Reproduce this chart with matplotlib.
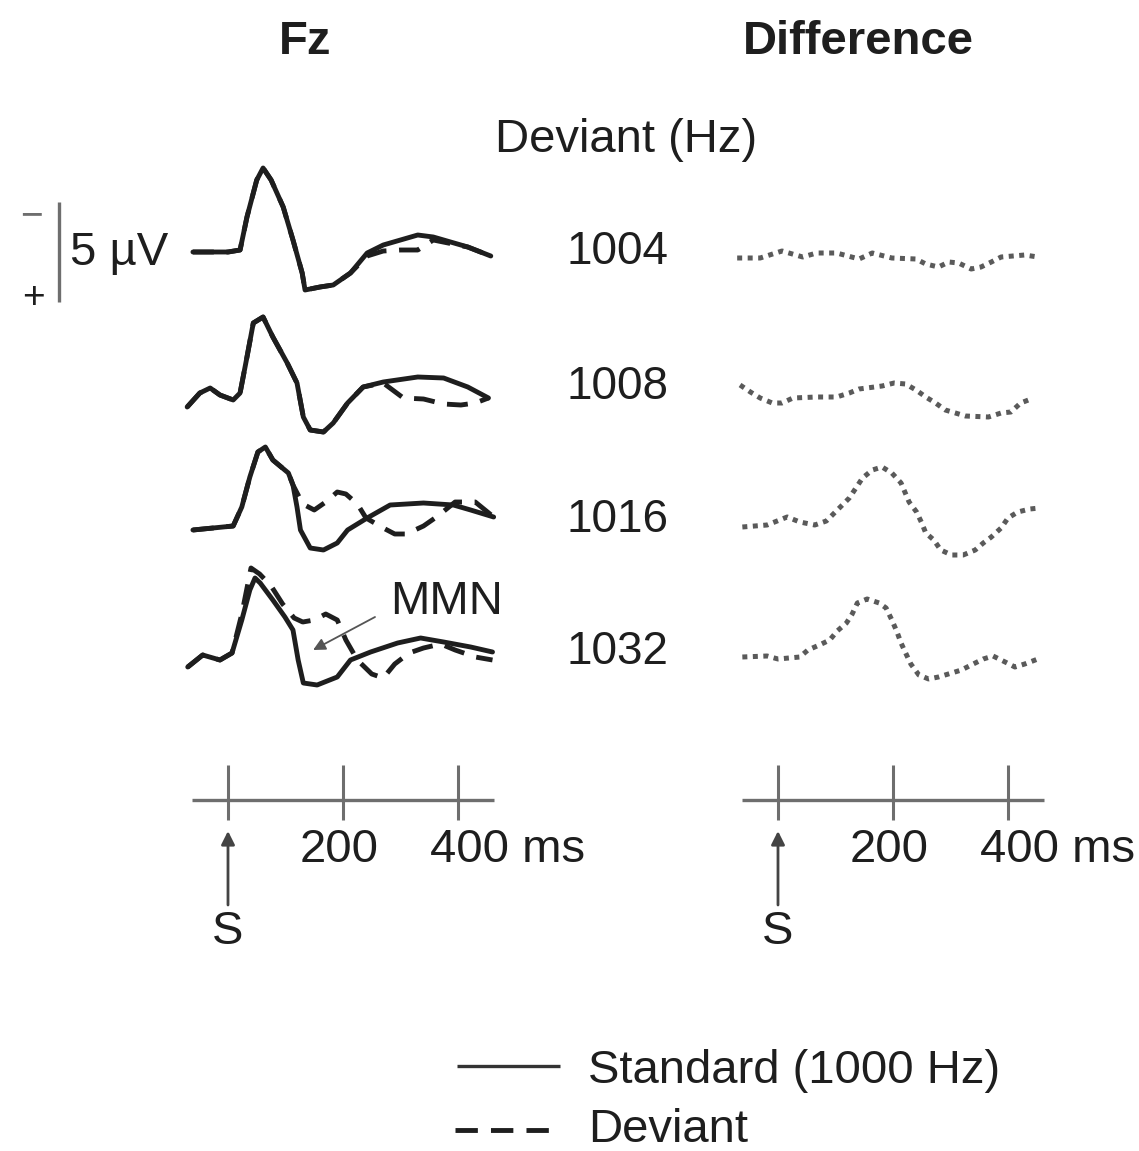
import matplotlib
matplotlib.use('Agg')
import matplotlib.pyplot as plt
from matplotlib.transforms import blended_transform_factory as blend

plt.rcParams['font.family'] = ['Liberation Sans', 'DejaVu Sans']

# ---------------- data ----------------
deviant_labels = ['1004', '1008', '1016', '1032']
time_ticks = [0, 200, 400]
tick_labels = ['', '200', '400 ms']
scale_uv = 5  # µV scale bar

# Fz standard (time ms, amplitude µV; negative plotted up)
std_1004_t = [-61, 0, 21, 33, 50, 61, 75, 96, 113, 129, 134, 160, 183, 213, 242, 270, 330, 357, 417, 457]
std_1004_v = [0, 0, -0.1, -1.75, -3.6, -4.2, -3.6, -2.25, -0.6, 1.05, 1.9, 1.75, 1.65, 1.05, 0.05, -0.35, -0.85, -0.75, -0.25, 0.2]
dev_1004_t = [-61, 0, 21, 33, 50, 61, 75, 96, 113, 129, 134, 160, 183, 213, 242, 270, 300, 330, 357, 417, 457]
dev_1004_v = [0, 0, -0.1, -1.75, -3.6, -4.2, -3.6, -2.25, -0.6, 1.05, 1.9, 1.75, 1.65, 1.05, 0.2, -0.05, -0.1, -0.1, -0.6, -0.25, 0.2]

std_1008_t = [-71, -49, -31, -14, 9, 21, 33, 44, 61, 78, 103, 120, 131, 143, 166, 183, 208, 235, 270, 330, 375, 417, 453]
std_1008_v = [0.45, -0.25, -0.5, -0.15, 0.1, -0.25, -2.05, -3.75, -4.05, -3.05, -1.75, -0.75, 0.95, 1.6, 1.7, 1.25, 0.25, -0.55, -0.8, -1.05, -1.0, -0.55, 0.0]
dev_1008_t = [-71, -49, -31, -14, 9, 21, 33, 44, 61, 78, 103, 120, 131, 143, 166, 183, 208, 235, 270, 305, 340, 375, 405, 430, 453]
dev_1008_v = [0.45, -0.25, -0.5, -0.15, 0.1, -0.25, -2.05, -3.75, -4.05, -3.05, -1.75, -0.75, 0.95, 1.6, 1.7, 1.25, 0.25, -0.55, -0.75, 0.0, 0.05, 0.3, 0.35, 0.25, 0.0]

std_1016_t = [-61, 9, 24, 38, 52, 65, 78, 105, 113, 120, 126, 143, 166, 190, 208, 242, 282, 340, 392, 422, 462]
std_1016_v = [0.1, -0.1, -1.05, -2.55, -3.8, -4.05, -3.4, -2.75, -2.15, -1.05, 0.1, 1.0, 1.1, 0.75, 0.1, -0.5, -1.15, -1.25, -1.15, -0.9, -0.55]
dev_1016_t = [-61, 9, 24, 38, 52, 65, 78, 105, 113, 130, 150, 170, 190, 205, 225, 240, 270, 290, 310, 340, 365, 395, 430, 462]
dev_1016_v = [0.1, -0.1, -1.05, -2.55, -3.8, -4.05, -3.4, -2.75, -2.15, -1.2, -0.9, -1.3, -1.8, -1.7, -1.2, -0.5, 0.0, 0.3, 0.3, -0.1, -0.6, -1.3, -1.3, -0.55]

std_1032_t = [-70, -44, -14, 7, 24, 38, 47, 56, 78, 99, 113, 122, 131, 155, 190, 213, 248, 295, 335, 375, 422, 460]
std_1032_v = [0.35, -0.25, 0, -0.35, -2.0, -3.5, -4.1, -3.85, -3.0, -2.15, -1.5, 0, 1.15, 1.25, 0.85, 0, -0.4, -0.85, -1.1, -0.9, -0.65, -0.4]
dev_1032_t = [-70, -44, -14, 7, 24, 40, 55, 75, 95, 115, 130, 150, 170, 190, 205, 225, 250, 270, 290, 315, 340, 370, 395, 430, 460]
dev_1032_v = [0.35, -0.25, 0, -0.35, -2.3, -4.6, -4.3, -3.7, -2.8, -2.1, -1.9, -2.0, -2.3, -2.0, -1.0, 0.0, 0.7, 0.9, 0.2, -0.35, -0.6, -0.8, -0.5, -0.15, 0.0]

# Difference waves (deviant - standard)
diff_1004_t = [-71, -31, 7, 43, 67, 102, 141, 164, 198, 240, 257, 279, 297, 314, 336, 353, 371, 388, 429, 452]
diff_1004_v = [0, 0, -0.35, -0.05, -0.25, -0.25, 0.05, -0.25, 0, 0.05, 0.3, 0.45, 0.2, 0.25, 0.55, 0.45, 0.2, -0.05, -0.15, -0.05]

diff_1008_t = [-66, -48, -31, -10, 7, 26, 67, 102, 124, 141, 181, 202, 222, 240, 257, 274, 291, 326, 366, 388, 405, 422, 440]
diff_1008_v = [-0.65, -0.3, 0, 0.25, 0.25, 0, -0.05, -0.05, -0.25, -0.45, -0.6, -0.75, -0.7, -0.4, -0.05, 0.25, 0.6, 0.9, 0.95, 0.75, 0.7, 0.25, 0.05]

diff_1016_t = [-62, -19, 16, 38, 64, 84, 98, 124, 147, 164, 181, 198, 214, 228, 241, 250, 257, 271, 283, 302, 322, 343, 357, 371, 388, 400, 417, 438, 455]
diff_1016_v = [0.1, 0, -0.4, -0.15, 0, -0.2, -0.6, -1.35, -2.35, -2.75, -2.9, -2.6, -2.1, -1.15, -0.65, -0.1, 0.4, 0.75, 1.25, 1.5, 1.5, 1.25, 0.9, 0.6, 0.15, -0.35, -0.65, -0.8, -0.85]

diff_1032_t = [-62, -19, 0, 38, 52, 72, 90, 103, 119, 129, 138, 155, 176, 188, 198, 207, 214, 222, 231, 245, 262, 279, 302, 319, 336, 357, 374, 395, 412, 429, 452]
diff_1032_v = [0, -0.05, 0.1, 0, -0.35, -0.6, -0.85, -1.3, -1.7, -2.15, -2.7, -2.9, -2.7, -2.45, -1.85, -1.25, -0.7, -0.2, 0.35, 0.9, 1.1, 1.0, 0.8, 0.65, 0.4, 0.1, -0.05, 0.25, 0.5, 0.35, 0.1]

std_t = [std_1004_t, std_1008_t, std_1016_t, std_1032_t]
std_v = [std_1004_v, std_1008_v, std_1016_v, std_1032_v]
dev_t = [dev_1004_t, dev_1008_t, dev_1016_t, dev_1032_t]
dev_v = [dev_1004_v, dev_1008_v, dev_1016_v, dev_1032_v]
diff_t = [diff_1004_t, diff_1008_t, diff_1016_t, diff_1032_t]
diff_v = [diff_1004_v, diff_1008_v, diff_1016_v, diff_1032_v]

# ---------------- layout ----------------
W, H = 1139, 1151
fig = plt.figure(figsize=(W / 100, H / 100), dpi=100)
fig.patch.set_facecolor('white')
overlay = fig.add_axes([0, 0, 1, 1])
overlay.set_xlim(0, W)
overlay.set_ylim(H, 0)
overlay.axis('off')

INK = '#1e1e1e'
GRAY = '#6e6e6e'
DOT = '#5a5a5a'
FS = 34

MS_PX = 0.575   # pixels per ms
UV_PX = 20.0    # pixels per µV
left_zero, right_zero = 228, 778
left_base = [252, 398, 528, 660]
right_base = [258, 398, 525, 657]
label_centers = [247, 382, 515, 647]


def panel(zero, base):
    ax = fig.add_axes([0, 0, 1, 1])
    ax.set_xlim(-zero / MS_PX, (W - zero) / MS_PX)
    ax.set_ylim((H - base) / UV_PX, -base / UV_PX)  # negative up
    ax.axis('off')
    ax.patch.set_alpha(0)
    return ax


left_axes, right_axes = [], []
for i in range(4):
    axl = panel(left_zero, left_base[i])
    axl.plot(std_t[i], std_v[i], color=INK, lw=3.5, solid_capstyle='round', solid_joinstyle='round')
    axl.plot(dev_t[i], dev_v[i], color=INK, lw=3.5, ls=(0, (4.3, 2.6)), dash_capstyle='butt')
    left_axes.append(axl)
    axr = panel(right_zero, right_base[i])
    axr.plot(diff_t[i], diff_v[i], color=DOT, lw=3.6, ls=(0, (1, 1.1)), dash_capstyle='butt')
    right_axes.append(axr)
    overlay.text(617, label_centers[i] + 17, deviant_labels[i], fontsize=33, color=INK,
                 ha='center', va='baseline')

# headers
overlay.text(305, 54, 'Fz', fontsize=FS, fontweight='bold', color=INK, ha='center', va='baseline')
overlay.text(858, 54, 'Difference', fontsize=FS, fontweight='bold', color=INK, ha='center', va='baseline')
overlay.text(626, 152, 'Deviant (Hz)', fontsize=FS, color=INK, ha='center', va='baseline')

# amplitude scale bar
tr_sb = blend(overlay.transData, left_axes[0].transData)
overlay.plot([59, 59], [-scale_uv / 2, scale_uv / 2], transform=tr_sb, color=GRAY, lw=2.4,
             solid_capstyle='butt')
overlay.text(70, 265, f'{scale_uv} µV', fontsize=FS, color=INK, ha='left', va='baseline')
overlay.text(31, 226, '\u2212', fontsize=28, color=GRAY, ha='center', va='baseline')
overlay.text(33, 308, '+', fontsize=28, color=INK, ha='center', va='baseline')

# MMN label and arrow
overlay.text(390, 614, 'MMN', fontsize=FS, color=INK, ha='left', va='baseline')
left_axes[3].annotate('', xy=(148, -0.5), xycoords='data', xytext=(375, 617),
                      textcoords=overlay.transData,
                      arrowprops=dict(arrowstyle='-|>', color='#555555', lw=1.3,
                                      mutation_scale=18, shrinkA=0, shrinkB=0))

# time axes
label_offsets = [0, -4, -28]
for ax in (left_axes[0], right_axes[0]):
    tr = blend(ax.transData, overlay.transData)
    ax.plot([-62, 462], [800, 800], transform=tr, color=GRAY, lw=2.4, solid_capstyle='butt')
    for t, lbl, off in zip(time_ticks, tick_labels, label_offsets):
        ax.plot([t, t], [765, 820], transform=tr, color=GRAY, lw=2.2, solid_capstyle='butt')
        if lbl:
            ax.annotate(lbl, xy=(t, 862), xycoords=tr, xytext=(off, 0),
                        textcoords='offset pixels', fontsize=FS, color=INK,
                        ha='center' if lbl == '200' else 'left', va='baseline')
    ax.annotate('', xy=(0, 831), xycoords=tr, xytext=(0, 905), textcoords=tr,
                arrowprops=dict(arrowstyle='-|>', color='#444444', lw=2,
                                mutation_scale=20, shrinkA=0, shrinkB=0))
    ax.text(0, 944, 'S', transform=tr, fontsize=FS, color=INK, ha='center', va='baseline')

# legend
overlay.plot([457, 560], [1066, 1066], color='#333333', lw=2.4, solid_capstyle='butt')
overlay.text(588, 1083, 'Standard (1000 Hz)', fontsize=FS, color=INK, ha='left', va='baseline')
overlay.plot([455, 550], [1130, 1130], color=INK, lw=3.5, ls=(0, (4.6, 2.7)), dash_capstyle='butt')
overlay.text(588, 1142, 'Deviant', fontsize=FS, color=INK, ha='left', va='baseline')

fig.savefig('out.png', dpi=100, facecolor='white')
